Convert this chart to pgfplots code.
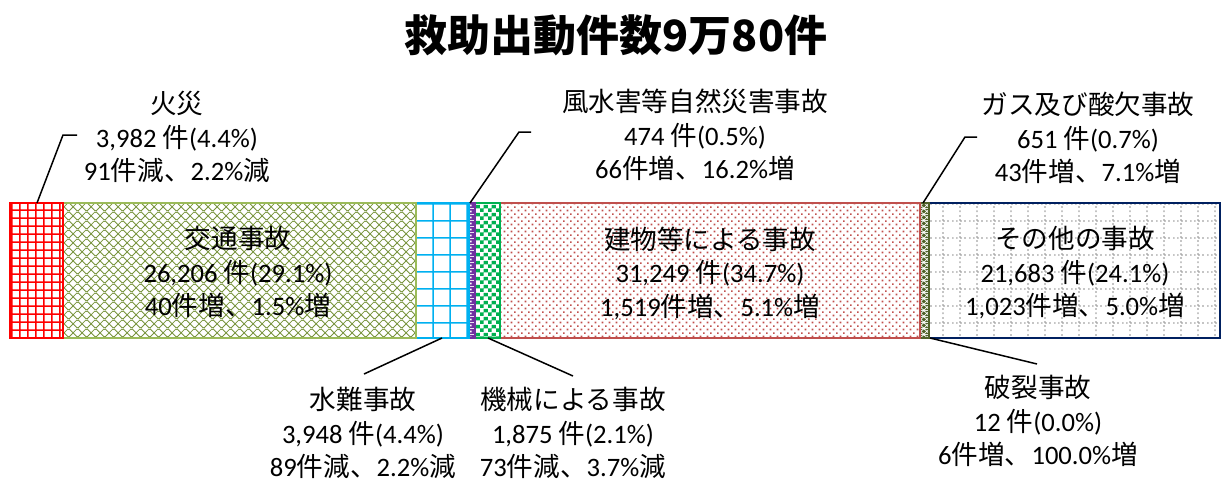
\documentclass[border=0pt]{standalone}
\usepackage{fontspec}
\setmainfont{Carlito}
\newfontfamily\jp{Noto Sans CJK JP}
\usepackage{pgfplots}
\pgfplotsset{compat=1.18}
\usetikzlibrary{patterns}

\definecolor{fireRed}{HTML}{FF0000}
\definecolor{trafficOlive}{HTML}{77933C}
\definecolor{trafficBorder}{HTML}{9BBB59}
\definecolor{waterCyan}{HTML}{00B0F0}
\definecolor{windPurple}{HTML}{7030A0}
\definecolor{machineGreen}{HTML}{00B050}
\definecolor{buildRed}{HTML}{C0504D}
\definecolor{gasOlive}{HTML}{4F6228}
\definecolor{otherNavy}{HTML}{002060}
\definecolor{gridGray}{HTML}{A6A6A6}

\pgfdeclarepatterninherentlycolored{firegrid}{\pgfpointorigin}{\pgfpoint{4.15pt}{4.15pt}}{\pgfpoint{4.15pt}{4.15pt}}{%
 \pgfsetcolor{fireRed}\pgfsetlinewidth{0.85pt}%
 \pgfpathmoveto{\pgfpoint{-0.5pt}{2.075pt}}\pgfpathlineto{\pgfpoint{4.65pt}{2.075pt}}%
 \pgfpathmoveto{\pgfpoint{2.075pt}{-0.5pt}}\pgfpathlineto{\pgfpoint{2.075pt}{4.65pt}}%
 \pgfusepath{stroke}}
\pgfdeclarepatterninherentlycolored{trafficx}{\pgfpointorigin}{\pgfpoint{4.3pt}{4.3pt}}{\pgfpoint{4.3pt}{4.3pt}}{%
 \pgfsetcolor{trafficOlive}\pgfsetlinewidth{0.38pt}%
 \pgfpathmoveto{\pgfpoint{-0.5pt}{-0.5pt}}\pgfpathlineto{\pgfpoint{4.8pt}{4.8pt}}%
 \pgfpathmoveto{\pgfpoint{-0.5pt}{4.8pt}}\pgfpathlineto{\pgfpoint{4.8pt}{-0.5pt}}%
 \pgfusepath{stroke}}
\pgfdeclarepatterninherentlycolored{watergrid}{\pgfpointorigin}{\pgfpoint{8.5pt}{8.5pt}}{\pgfpoint{8.5pt}{8.5pt}}{%
 \pgfsetcolor{waterCyan}\pgfsetlinewidth{0.85pt}%
 \pgfpathmoveto{\pgfpoint{-0.5pt}{4.25pt}}\pgfpathlineto{\pgfpoint{9pt}{4.25pt}}%
 \pgfpathmoveto{\pgfpoint{4.25pt}{-0.5pt}}\pgfpathlineto{\pgfpoint{4.25pt}{9pt}}%
 \pgfusepath{stroke}}
\pgfdeclarepatterninherentlycolored{winddots}{\pgfpointorigin}{\pgfpoint{3pt}{3pt}}{\pgfpoint{3pt}{3pt}}{%
 \pgfsetfillcolor{windPurple}%
 \pgfpathrectangle{\pgfpointorigin}{\pgfpoint{3pt}{3pt}}\pgfusepath{fill}%
 \pgfsetfillcolor{white}%
 \pgfpathrectangle{\pgfpoint{1pt}{1pt}}{\pgfpoint{1pt}{1pt}}\pgfusepath{fill}}
\pgfdeclarepatterninherentlycolored{machinechk}{\pgfpointorigin}{\pgfpoint{4pt}{4pt}}{\pgfpoint{4pt}{4pt}}{%
 \pgfsetfillcolor{machineGreen}%
 \pgfpathrectangle{\pgfpointorigin}{\pgfpoint{2pt}{2pt}}%
 \pgfpathrectangle{\pgfpoint{2pt}{2pt}}{\pgfpoint{2pt}{2pt}}\pgfusepath{fill}}
\pgfdeclarepatterninherentlycolored{builddots}{\pgfpointorigin}{\pgfpoint{3.65pt}{3.65pt}}{\pgfpoint{3.65pt}{3.65pt}}{%
 \pgfsetfillcolor{buildRed}%
 \pgfpathrectangle{\pgfpoint{0.4pt}{0.4pt}}{\pgfpoint{0.9pt}{0.9pt}}%
 \pgfpathrectangle{\pgfpoint{2.225pt}{2.225pt}}{\pgfpoint{0.9pt}{0.9pt}}\pgfusepath{fill}}
\pgfdeclarepatterninherentlycolored{gasx}{\pgfpointorigin}{\pgfpoint{3pt}{3pt}}{\pgfpoint{3pt}{3pt}}{%
 \pgfsetfillcolor{gasOlive}%
 \pgfpathrectangle{\pgfpointorigin}{\pgfpoint{3pt}{3pt}}\pgfusepath{fill}%
 \pgfsetstrokecolor{white}\pgfsetlinewidth{0.4pt}%
 \pgfpathmoveto{\pgfpoint{-0.3pt}{-0.3pt}}\pgfpathlineto{\pgfpoint{3.3pt}{3.3pt}}%
 \pgfpathmoveto{\pgfpoint{-0.3pt}{3.3pt}}\pgfpathlineto{\pgfpoint{3.3pt}{-0.3pt}}%
 \pgfusepath{stroke}}
\pgfdeclarepatterninherentlycolored{othergrid}{\pgfpointorigin}{\pgfpoint{8.5pt}{8.5pt}}{\pgfpoint{8.5pt}{8.5pt}}{%
 \pgfsetcolor{gridGray}\pgfsetlinewidth{0.7pt}\pgfsetdash{{0.9pt}{1.225pt}}{0pt}%
 \pgfpathmoveto{\pgfpoint{0pt}{4.25pt}}\pgfpathlineto{\pgfpoint{8.5pt}{4.25pt}}%
 \pgfpathmoveto{\pgfpoint{4.25pt}{0pt}}\pgfpathlineto{\pgfpoint{4.25pt}{8.5pt}}%
 \pgfusepath{stroke}}

\newcommand\J[1]{{\jp #1}}
\newcommand\lab{\fontsize{13.3pt}{16.75pt}\selectfont}

\begin{document}
\begin{tikzpicture}
\path[use as bounding box] (0,0) rectangle (611pt,-241.5pt);
\begin{axis}[at={(5pt,-169pt)}, anchor=south west, scale only axis,
  width=605pt, height=67.5pt, hide axis,
  xmin=0, xmax=90080, ymin=-0.5, ymax=0.5,
  xbar stacked, bar width=1, clip=false]
\addplot[draw=fireRed, line width=1pt, pattern=firegrid] coordinates {(3982,0)};
\addplot[draw=trafficBorder, line width=1pt, pattern=trafficx] coordinates {(26206,0)};
\addplot[draw=waterCyan, line width=1pt, pattern=watergrid] coordinates {(3948,0)};
\addplot[draw=windPurple, line width=1pt, pattern=winddots] coordinates {(474,0)};
\addplot[draw=machineGreen, line width=1pt, pattern=machinechk] coordinates {(1875,0)};
\addplot[draw=buildRed, line width=1pt, pattern=builddots] coordinates {(31249,0)};
\addplot[draw=gasOlive, line width=1pt, pattern=gasx] coordinates {(651,0)};
\addplot[draw=gasOlive, line width=1pt, fill=gasOlive] coordinates {(12,0)};
\addplot[draw=otherNavy, line width=1.2pt, pattern=othergrid] coordinates {(21683,0)};
\end{axis}
\begin{scope}[x=0.5pt, y=-0.5pt]
\node[font=\jp\bfseries\fontsize{21.5pt}{25pt}\selectfont] at (616,35) {救助出動件数9万80件};
% leader lines
\draw[black, line width=0.75pt] (77,135) -- (63,135) -- (37,203);
\draw[black, line width=0.75pt] (531,132) -- (519,132) -- (470,203);
\draw[black, line width=0.75pt] (977,137) -- (965,137) -- (923,203);
\draw[black, line width=0.75pt] (442,338) -- (364,374);
\draw[black, line width=0.75pt] (488,338) -- (573,376);
\draw[black, line width=0.75pt] (930,338) -- (1037,364);
% labels
\node[font=\lab, align=center] at (177,137) {\J{火災}\\3,982 \J{件}(4.4\%)\\91\J{件減、}2.2\%\J{減}};
\node[font=\lab, align=center] at (695,135) {\J{風水害等自然災害事故}\\474 \J{件}(0.5\%)\\66\J{件増、}16.2\%\J{増}};
\node[font=\lab, align=center] at (1088,138) {\J{ガス及び酸欠事故}\\651 \J{件}(0.7\%)\\43\J{件増、}7.1\%\J{増}};
\node[font=\lab, align=center] at (238,272) {\J{交通事故}\\26,206 \J{件}(29.1\%)\\40\J{件増、}1.5\%\J{増}};
\node[font=\lab, align=center] at (710,273) {\J{建物等による事故}\\31,249 \J{件}(34.7\%)\\1,519\J{件増、}5.1\%\J{増}};
\node[font=\lab, align=center] at (1075,273) {\J{その他の事故}\\21,683 \J{件}(24.1\%)\\1,023\J{件増、}5.0\%\J{増}};
\node[font=\lab, align=center] at (363,433) {\J{水難事故}\\3,948 \J{件}(4.4\%)\\89\J{件減、}2.2\%\J{減}};
\node[font=\lab, align=center] at (573,433) {\J{機械による事故}\\1,875 \J{件}(2.1\%)\\73\J{件減、}3.7\%\J{減}};
\node[font=\lab, align=center] at (1038,421) {\J{破裂事故}\\12 \J{件}(0.0\%)\\6\J{件増、}100.0\%\J{増}};
\end{scope}
\end{tikzpicture}
\end{document}
